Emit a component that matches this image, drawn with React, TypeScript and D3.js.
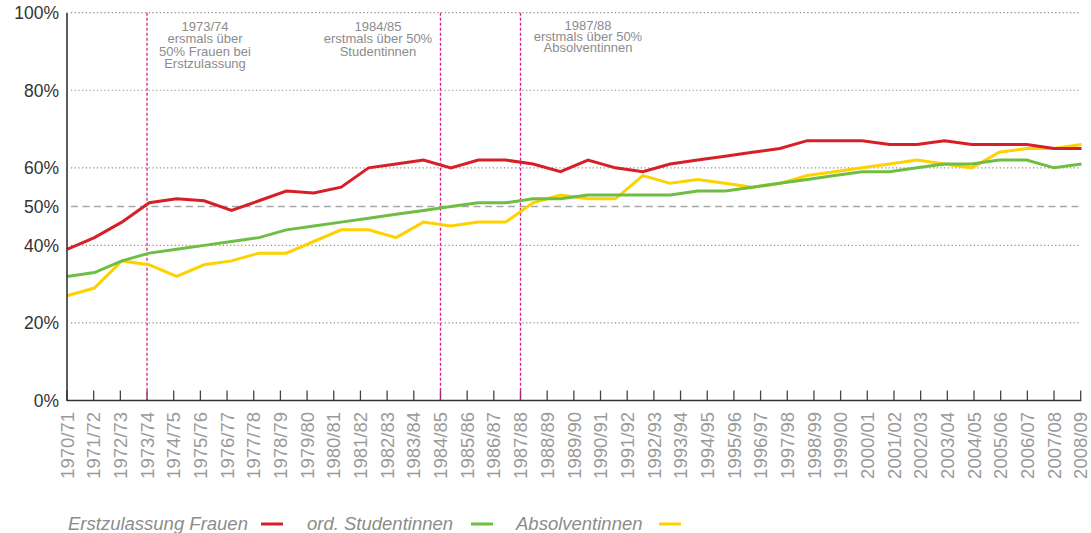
import React from "react";
import * as d3 from "d3";

const categories = [
  "1970/71","1971/72","1972/73","1973/74","1974/75","1975/76","1976/77","1977/78","1978/79","1979/80",
  "1980/81","1981/82","1982/83","1983/84","1984/85","1985/86","1986/87","1987/88","1988/89","1989/90",
  "1990/91","1991/92","1992/93","1993/94","1994/95","1995/96","1996/97","1997/98","1998/99","1999/00",
  "2000/01","2001/02","2002/03","2003/04","2004/05","2005/06","2006/07","2007/08","2008/09",
];

// Series values (%), as drawn in the reference (38 points spread across the axis)
const erstzulassungFrauen = [39,42,46,51,52,51.5,49,51.5,54,53.5,55,60,61,62,60,62,62,61,59,62,60,59,61,62,63,64,65,67,67,67,66,66,67,66,66,66,65,65];
const ordStudentinnen = [32,33,36,38,39,40,41,42,44,45,46,47,48,49,50,51,51,52,52,53,53,53,53,54,54,55,56,57,58,59,59,60,61,61,62,62,60,61];
const absolventinnen = [27,29,36,35,32,35,36,38,38,41,44,44,42,46,45,46,46,51,53,52,52,58,56,57,56,55,56,58,59,60,61,62,61,60,64,65,65,66];

const yTickValues = [0, 20, 40, 50, 60, 80, 100];
const gridValues = [20, 40, 60, 80, 100];
const referenceValue = 50;

const annotationCats = ["1973/74", "1984/85", "1987/88"];
const annotationTexts = [
  ["1973/74", "ersmals über", "50% Frauen bei", "Erstzulassung"],
  ["1984/85", "erstmals über 50%", "Studentinnen"],
  ["1987/88", "erstmals über 50%", "Absolventinnen"],
];

const seriesNames = ["Erstzulassung Frauen", "ord. Studentinnen", "Absolventinnen"];
const seriesColors = ["#d71f27", "#6fbe44", "#fed100"];

const W = 1091, H = 533;
const X0 = 67, X1 = 1080.7;
const Y0 = 400.5, Y1 = 12.7;
const FONT = "'Liberation Sans', Arial, sans-serif";

export default function App() {
  const xCat = d3.scalePoint<string>().domain(categories).range([X0, X1]);
  const xLine = d3.scaleLinear().domain([0, erstzulassungFrauen.length - 1]).range([X0, 1081.5]);
  const y = d3.scaleLinear().domain([0, 100]).range([Y0, Y1]);
  const line = d3.line<number>().x((_, i) => xLine(i)).y((d) => y(d));

  const series = [absolventinnen, ordStudentinnen, erstzulassungFrauen];
  const seriesCol = [seriesColors[2], seriesColors[1], seriesColors[0]];

  const annOffsets = [
    { cx: 205, y0: 31, lh: 12.3 },
    { cx: 378, y0: 31, lh: 12.3 },
    { cx: 588, y0: 29.5, lh: 11.3 },
  ];

  const legendLayout = [
    { tx: 68, sx: 261 },
    { tx: 307, sx: 471 },
    { tx: 516, sx: 659 },
  ];

  return (
    <svg width={W} height={H} style={{ position: "absolute", left: 0, top: 0, background: "#fff" }} fontFamily={FONT}>
      {/* grid */}
      {gridValues.map((v) => (
        <line key={"g" + v} x1={X0 + 4} x2={X1} y1={y(v)} y2={y(v)} stroke="#8a8a8a" strokeWidth={1.2} strokeDasharray="1.2 2.5" />
      ))}
      <line x1={X0 + 4} x2={X1} y1={y(referenceValue)} y2={y(referenceValue)} stroke="#a8a8a8" strokeWidth={1.5} strokeDasharray="7 4.5" />

      {/* ticks */}
      {categories.map((c) => (
        <line key={"t" + c} x1={xCat(c)!} x2={xCat(c)!} y1={Y0} y2={Y0 - 10} stroke="#444" strokeWidth={1.3} />
      ))}

      {/* annotation lines */}
      {annotationCats.map((c) => (
        <line key={"m" + c} x1={xCat(c)!} x2={xCat(c)!} y1={Y1} y2={Y0} stroke="#de1e7e" strokeWidth={1.3} strokeDasharray="3 2" />
      ))}

      {/* series */}
      {series.map((s, i) => (
        <path key={"s" + i} d={line(s) || ""} fill="none" stroke={seriesCol[i]} strokeWidth={3} />
      ))}

      {/* axes */}
      <line x1={X0} x2={X0} y1={Y1} y2={Y0 + 0.5} stroke="#333" strokeWidth={1.6} />
      <line x1={X0} x2={X1 + 0.5} y1={Y0} y2={Y0} stroke="#333" strokeWidth={1.6} />

      {/* y labels */}
      {yTickValues.map((v) => (
        <text key={"yl" + v} x={59} y={y(v)} dy="0.36em" textAnchor="end" fontSize={17.5} fill="#333">
          {v + "%"}
        </text>
      ))}

      {/* x labels */}
      {categories.map((c) => (
        <text key={"xl" + c} transform={`translate(${xCat(c)!},412) rotate(-90)`} dy="0.36em" textAnchor="end" fontSize={18.5} fill="#9a9a9a">
          {c}
        </text>
      ))}

      {/* annotations */}
      {annotationTexts.map((lines, i) => (
        <text key={"a" + i} textAnchor="middle" fontSize={13} fill="#8c8c8c">
          {lines.map((t, j) => (
            <tspan key={j} x={annOffsets[i].cx} y={annOffsets[i].y0 + j * annOffsets[i].lh}>{t}</tspan>
          ))}
        </text>
      ))}

      {/* legend */}
      {seriesNames.map((n, i) => (
        <g key={"lg" + i}>
          <text x={legendLayout[i].tx} y={529.5} fontSize={18.5} fontStyle="italic" fill="#8c8c8c">{n}</text>
          <line x1={legendLayout[i].sx} x2={legendLayout[i].sx + 22} y1={524} y2={524} stroke={seriesColors[i]} strokeWidth={3} />
        </g>
      ))}
    </svg>
  );
}
